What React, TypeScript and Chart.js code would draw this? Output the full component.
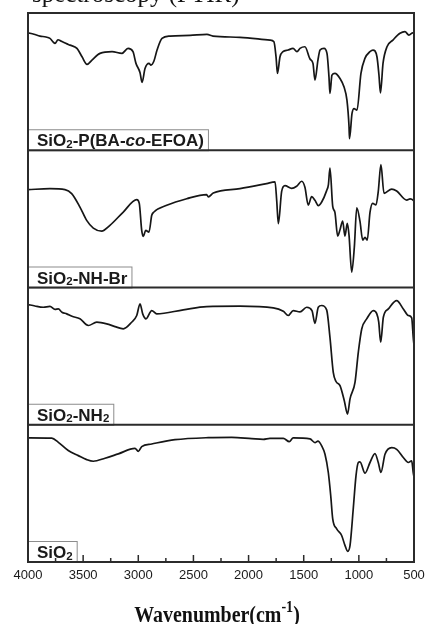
import React, { useEffect, useRef } from "react";
import { Chart, registerables } from "chart.js";

Chart.register(...registerables);

// ---- Data (wavenumber in cm-1, transmittance in % of panel height) ----
const p1Wn = [4000, 3946, 3891, 3837, 3801, 3773, 3755, 3728, 3701, 3674, 3646, 3619, 3556, 3510, 3465, 3420, 3347, 3238, 3148, 3093, 3048, 3021, 2984, 2966, 2939, 2903, 2885, 2858, 2830, 2785, 2712, 2531, 2377, 2323, 2078, 1806, 1770, 1751, 1738, 1715, 1688, 1643, 1597, 1561, 1534, 1489, 1443, 1416, 1398, 1371, 1352, 1316, 1289, 1271, 1262, 1244, 1217, 1171, 1135, 1108, 1089, 1085, 1062, 1044, 1017, 981, 945, 899, 872, 836, 818, 804, 781, 745, 691, 627, 582, 546, 510, 500];
const p1T = [85.6, 84.5, 83.2, 82.5, 81.5, 79, 77.9, 80.5, 79.5, 78.5, 77.5, 76.6, 74.2, 68.1, 62.6, 65.7, 70.6, 71.8, 70.6, 74.2, 71.8, 63.3, 56.5, 49.4, 59.6, 63.3, 62, 65, 73, 81.5, 83.2, 83.7, 84.4, 83.2, 82.3, 80.3, 79.1, 68, 56, 68.1, 71.8, 73, 74.2, 71.8, 74.2, 75.4, 66.5, 63.3, 51.1, 65.7, 73, 74.2, 70.6, 53.5, 41.4, 54.7, 56, 52.3, 46.2, 36.5, 17, 8.5, 26.8, 30.4, 29.2, 56, 66.9, 71.8, 73, 68.1, 55, 41.8, 63.3, 75.4, 80.3, 85.2, 86.4, 83.9, 85.6, 84.5];

const p2Wn = [4000, 3801, 3665, 3604, 3529, 3468, 3408, 3332, 3257, 3136, 3014, 2991, 2969, 2955, 2933, 2903, 2878, 2858, 2742, 2561, 2380, 2365, 2320, 2078, 1836, 1760, 1745, 1730, 1700, 1670, 1609, 1564, 1518, 1489, 1459, 1428, 1398, 1368, 1337, 1292, 1276, 1262, 1237, 1217, 1192, 1171, 1147, 1126, 1105, 1089, 1065, 1041, 1019, 990, 965, 944, 924, 899, 875, 845, 824, 800, 772, 702, 657, 566, 536, 506, 500];
const p2T = [71.3, 72, 71.3, 68.4, 58.6, 48.9, 43.3, 41.1, 45.3, 55, 64, 61.3, 41.6, 37.2, 41.6, 40.4, 52.6, 55, 59.9, 64.7, 67.7, 66, 68.8, 72, 75.7, 76.9, 63.5, 46.5, 70, 74.2, 72.2, 73.8, 77.4, 73, 60, 66.2, 63.5, 59.6, 62.3, 70.6, 75, 87, 59.1, 54.7, 37.5, 42, 48.4, 37.5, 46.7, 38, 11.2, 29.4, 58.1, 48.3, 34.5, 36.5, 34.5, 54.7, 61.3, 60.1, 70, 89.5, 68.6, 71.7, 70.3, 63.7, 64.5, 63.5, 62.8];

const p3Wn = [4000, 3937, 3861, 3801, 3755, 3725, 3692, 3649, 3601, 3529, 3453, 3377, 3286, 3211, 3136, 3060, 3014, 2984, 2960, 2930, 2878, 2833, 2592, 2380, 2078, 1776, 1685, 1640, 1595, 1534, 1473, 1425, 1398, 1368, 1337, 1292, 1262, 1232, 1207, 1171, 1132, 1103, 1080, 1035, 1005, 974, 929, 869, 838, 820, 802, 778, 733, 657, 597, 552, 521, 507, 500];
const p3T = [87.6, 86.5, 85.6, 86.2, 84, 84.4, 82, 80.8, 79, 77.2, 72.3, 74.7, 73.5, 71.5, 69.9, 74.7, 79.6, 88.1, 80.8, 77.2, 83.2, 80.8, 83.7, 86.1, 86.4, 85.2, 82.7, 79.6, 83.2, 82.2, 85.6, 83.2, 73.9, 85.6, 86.9, 83.7, 63.7, 38.2, 31.5, 28.5, 17.5, 7.8, 18.9, 30.9, 52.8, 69.8, 77.1, 83.2, 81, 75, 60.1, 78.3, 84.4, 90.5, 84.4, 79.6, 77.9, 63.7, 58];

const p4Wn = [4000, 3785, 3725, 3635, 3544, 3468, 3408, 3302, 3181, 3030, 3000, 2969, 2878, 2667, 2365, 2153, 1972, 1867, 1806, 1685, 1631, 1595, 1443, 1398, 1371, 1337, 1307, 1277, 1255, 1237, 1201, 1156, 1126, 1101, 1080, 1051, 1026, 1005, 990, 944, 899, 854, 824, 800, 763, 702, 657, 597, 552, 521, 507, 500];
const p4T = [90.4, 90.2, 87.2, 81.2, 77.5, 74.6, 73.4, 75.6, 78.8, 82.8, 80.6, 84.1, 86, 89.1, 90.6, 90.8, 89.9, 89.4, 90.1, 90.1, 87.7, 90.4, 89.7, 87, 88, 84.6, 78.5, 65.2, 48.3, 31.4, 24.1, 19.3, 12.1, 7.8, 12.1, 38.6, 62.8, 72.5, 73, 64.7, 72.5, 79, 72.5, 65.2, 78.5, 83.3, 82.1, 76.1, 72.5, 73.7, 65.2, 62];

// labels: segments [text, style] — n normal, s subscript, i italic
const label1 = [["SiO", "n"], ["2", "s"], ["-P(BA-", "n"], ["co", "i"], ["-EFOA)", "n"]];
const label2 = [["SiO", "n"], ["2", "s"], ["-NH-Br", "n"]];
const label3 = [["SiO", "n"], ["2", "s"], ["-NH", "n"], ["2", "s"]];
const label4 = [["SiO", "n"], ["2", "s"]];

const xTickStep = 500;
const xMinorStep = 250;
const xMin = 500;
const xMax = 4000;
const axisTitleMain = "Wavenumber(cm";
const axisTitleSup = "-1";
const axisTitleEnd = ")";
const topCutText = "spectroscopy (FTIR)";

const panels = [
  { wn: p1Wn, t: p1T, label: label1 },
  { wn: p2Wn, t: p2T, label: label2 },
  { wn: p3Wn, t: p3T, label: label3 },
  { wn: p4Wn, t: p4T, label: label4 },
];

const SANS = '"Liberation Sans", Arial, sans-serif';
const SERIF = '"Liberation Serif", "Times New Roman", serif';

function segFont(style: string) {
  if (style === "s") return `bold 11.5px ${SANS}`;
  if (style === "i") return `italic bold 17px ${SANS}`;
  return `bold 17px ${SANS}`;
}

const decorPlugin = {
  id: "ftirDecor",
  afterDraw(chart: any) {
    const { ctx, chartArea } = chart;
    const { left, right, top, bottom } = chartArea;
    const ph = (bottom - top) / panels.length;
    ctx.save();

    // label boxes
    panels.forEach((p, i) => {
      const pb = top + (i + 1) * ph;
      let w = 0;
      for (const [t, s] of p.label) {
        ctx.font = segFont(s);
        w += ctx.measureText(t).width;
      }
      const bx = left;
      const bh = 21;
      const bw = 9 + w + 4;
      ctx.fillStyle = "#ffffff";
      ctx.fillRect(bx, pb - bh, bw, bh);
      ctx.strokeStyle = "#8c8c8c";
      ctx.lineWidth = 1;
      ctx.strokeRect(bx + 0.5, pb - bh + 0.5, bw, bh);
      let x = bx + 9;
      const base = pb - 4;
      ctx.fillStyle = "#1a1a1a";
      ctx.textBaseline = "alphabetic";
      ctx.textAlign = "left";
      for (const [t, s] of p.label) {
        ctx.font = segFont(s);
        ctx.fillText(t, x, s === "s" ? base + 1.5 : base);
        x += ctx.measureText(t).width;
      }
    });

    // frame and separators
    ctx.strokeStyle = "#2b2b2b";
    ctx.lineWidth = 2;
    ctx.strokeRect(left, top, right - left, bottom - top);
    for (let i = 1; i < panels.length; i++) {
      const y = top + i * ph;
      ctx.beginPath();
      ctx.moveTo(left, y);
      ctx.lineTo(right, y);
      ctx.stroke();
    }

    // inward ticks
    const xs = chart.scales.x;
    ctx.lineWidth = 1.5;
    for (let v = xMin + xMinorStep; v < xMax; v += xMinorStep) {
      const px = xs.getPixelForValue(v);
      const len = v % xTickStep === 0 ? 7 : 4;
      ctx.beginPath();
      ctx.moveTo(px, bottom);
      ctx.lineTo(px, bottom - len);
      ctx.stroke();
    }

    // axis title
    const sx = 0.83;
    ctx.fillStyle = "#111";
    ctx.textBaseline = "alphabetic";
    ctx.textAlign = "left";
    ctx.font = `bold 24px ${SERIF}`;
    const wA = ctx.measureText(axisTitleMain).width;
    const wC = ctx.measureText(axisTitleEnd).width;
    ctx.font = `bold 17px ${SERIF}`;
    const wB = ctx.measureText(axisTitleSup).width;
    const total = (wA + wB + wC) * sx;
    const cx = (left + right) / 2 - 4;
    ctx.translate(cx - total / 2, 622);
    ctx.scale(sx, 1);
    ctx.font = `bold 24px ${SERIF}`;
    ctx.fillText(axisTitleMain, 0, 0);
    ctx.font = `bold 17px ${SERIF}`;
    ctx.fillText(axisTitleSup, wA, -10);
    ctx.font = `bold 24px ${SERIF}`;
    ctx.fillText(axisTitleEnd, wA + wB, 0);
    ctx.setTransform(1, 0, 0, 1, 0, 0);

    // cut-off caption at the very top
    ctx.font = `25px ${SERIF}`;
    ctx.fillStyle = "#111";
    ctx.fillText(topCutText, 32, 1.5);

    ctx.restore();
  },
};

export default function App() {
  const ref = useRef<HTMLCanvasElement | null>(null);

  useEffect(() => {
    if (!ref.current) return;
    const n = panels.length;
    const datasets = panels.map((p, i) => ({
      label: p.label.map((s) => s[0]).join(""),
      data: p.wn.map((w, j) => ({ x: w, y: p.t[j] + (n - 1 - i) * 100 })),
      borderColor: "#161616",
      borderWidth: 1.7,
      pointRadius: 0,
      fill: false,
      cubicInterpolationMode: "monotone" as const,
    }));
    const chart = new Chart(ref.current, {
      type: "line",
      data: { datasets },
      options: {
        animation: false,
        responsive: false,
        maintainAspectRatio: false,
        layout: { padding: { left: 28, right: 11, top: 13, bottom: 0 } },
        plugins: { legend: { display: false }, tooltip: { enabled: false } },
        scales: {
          x: {
            type: "linear",
            reverse: true,
            min: xMin,
            max: xMax,
            grid: { display: false, drawTicks: false },
            border: { display: false },
            ticks: {
              stepSize: xTickStep,
              autoSkip: false,
              maxRotation: 0,
              padding: 6,
              color: "#1a1a1a",
              font: { family: SANS, size: 13 },
              callback: (v: any) => String(v),
            },
            afterFit: (s: any) => {
              s.height = 62;
              s.paddingLeft = 0;
              s.paddingRight = 0;
            },
          },
          y: { type: "linear", min: 0, max: n * 100, display: false },
        },
      },
      plugins: [decorPlugin],
    });
    return () => chart.destroy();
  }, []);

  return (
    <div style={{ position: "fixed", left: 0, top: 0, width: 425, height: 624, background: "#fff" }}>
      <canvas ref={ref} width={425} height={624} style={{ display: "block" }} />
    </div>
  );
}
